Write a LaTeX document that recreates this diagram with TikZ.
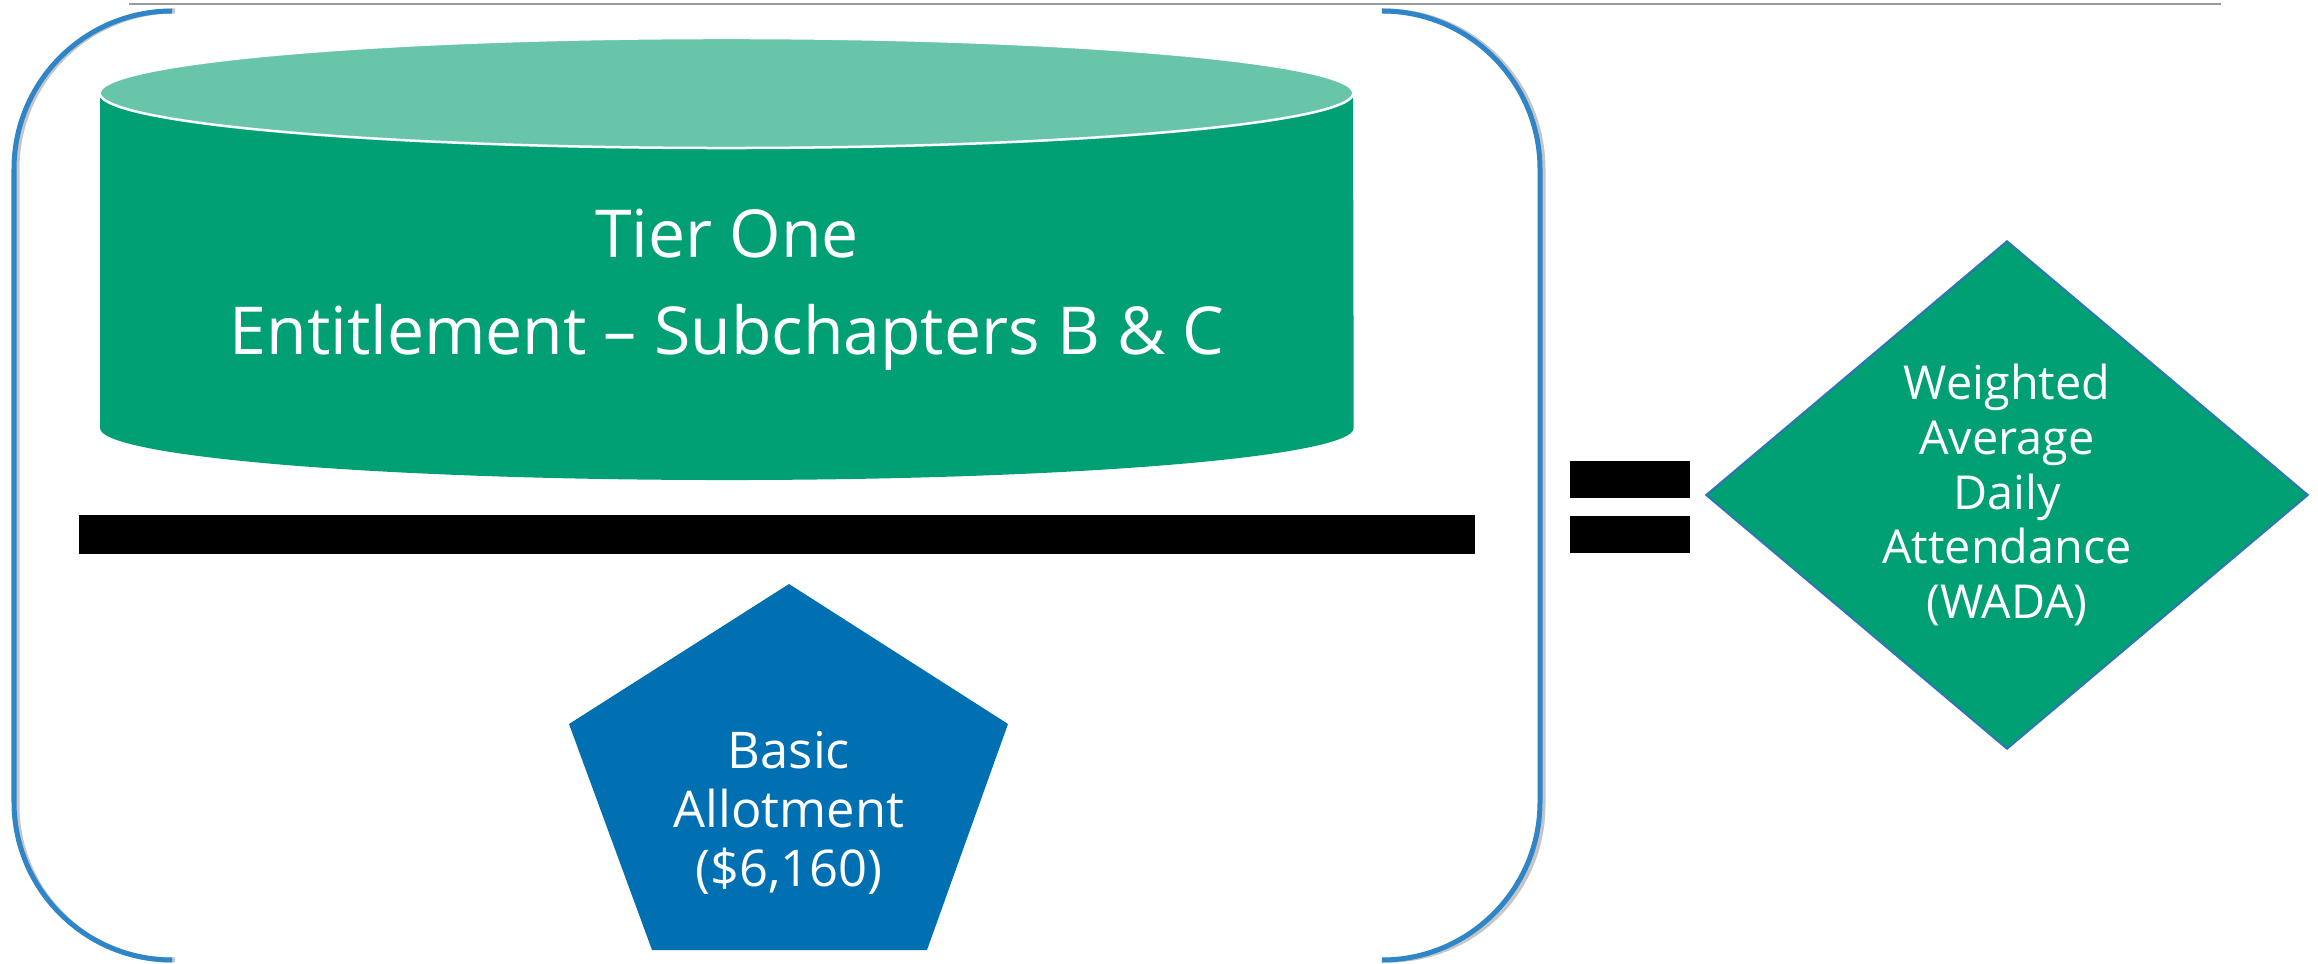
\documentclass[tikz,border=0pt]{standalone}
\usepackage{fontspec}
\setmainfont{Open Sans}
\usetikzlibrary{positioning,shapes.geometric}
\definecolor{tiergreen}{HTML}{00A074}
\definecolor{tiertop}{HTML}{68C5AA}
\definecolor{bracketblue}{HTML}{2E86C8}
\definecolor{allotblue}{HTML}{0070B2}
\definecolor{wadaedge}{HTML}{2E75B6}
\tikzset{
  bracket/.style={draw=bracketblue, line width=0.05cm, rounded corners=1.58cm},
  brshadow/.style={draw=black!45, line width=0.05cm, rounded corners=1.58cm, opacity=0.5},
  tiertext/.style={text=white, anchor=base,
    font=\fontsize{18.8}{22}\selectfont},
  wtext/.style={text=white, align=center,
    font=\fontsize{13.3}{15.6}\selectfont}
}

\begin{document}
\begin{tikzpicture}[x=0.01cm, y=-0.01cm]
\useasboundingbox (0,0) rectangle (2318,964);

% rule along the top
\draw[black!40, line width=0.02cm] (129,4) -- (2221,4);

% the two brackets
\coordinate (lbtop) at (172,11);
\coordinate (lbbot) at (172,960);
\coordinate (rbtop) at (1382,11);
\coordinate (rbbot) at (1382,960);

\begin{scope}[shift={(3,3)}]
\draw[brshadow] (lbtop) -| (14,960) -- (lbbot);
\draw[brshadow] (rbtop) -| (1540,960) -- (rbbot);
\end{scope}
\draw[bracket] (lbtop) -| (14,960) -- (lbbot);
\draw[bracket] (rbtop) -| (1540,960) -- (rbbot);

% cylinder
\fill[tiergreen] (100,93) -- (100,428)
  arc[start angle=180, end angle=360, x radius=6.265cm, y radius=0.52cm]
  -- (1353,93) -- cycle;
\filldraw[fill=tiertop, draw=white, line width=0.025cm]
  (726.5,93) ellipse[x radius=6.265cm, y radius=0.55cm];

\node[tiertext] (tierone) at (727,258) {Tier One};
\node[tiertext] (entitle) at (727,355) {Entitlement – Subchapters B \& C};

% fraction bar and equals sign
\fill (79,515) rectangle (1475,554);
\fill (1570,461) rectangle (1690,498);
\fill (1570,516) rectangle (1690,553);

% pentagon
\coordinate (p1) at (789,584);
\coordinate (p2) at (1008,724);
\coordinate (p3) at (927,950);
\coordinate (p4) at (652,950);
\coordinate (p5) at (569,724);
\fill[allotblue] (p1) -- (p2) -- (p3) -- (p4) -- (p5) -- cycle;
\node[wtext, font=\fontsize{14.4}{16.7}\selectfont]
  (allot) at (789,813) {Basic\\Allotment\\(\$6,160)};

% diamond
\node[diamond, fill=tiergreen, draw=wadaedge, line width=0.02cm,
  aspect=1.185, minimum width=6.02cm, minimum height=5.08cm,
  inner sep=0pt, wtext] (wada) at (2007,495)
  {Weighted\\Average\\Daily\\Attendance\\(WADA)};

\end{tikzpicture}
\end{document}
